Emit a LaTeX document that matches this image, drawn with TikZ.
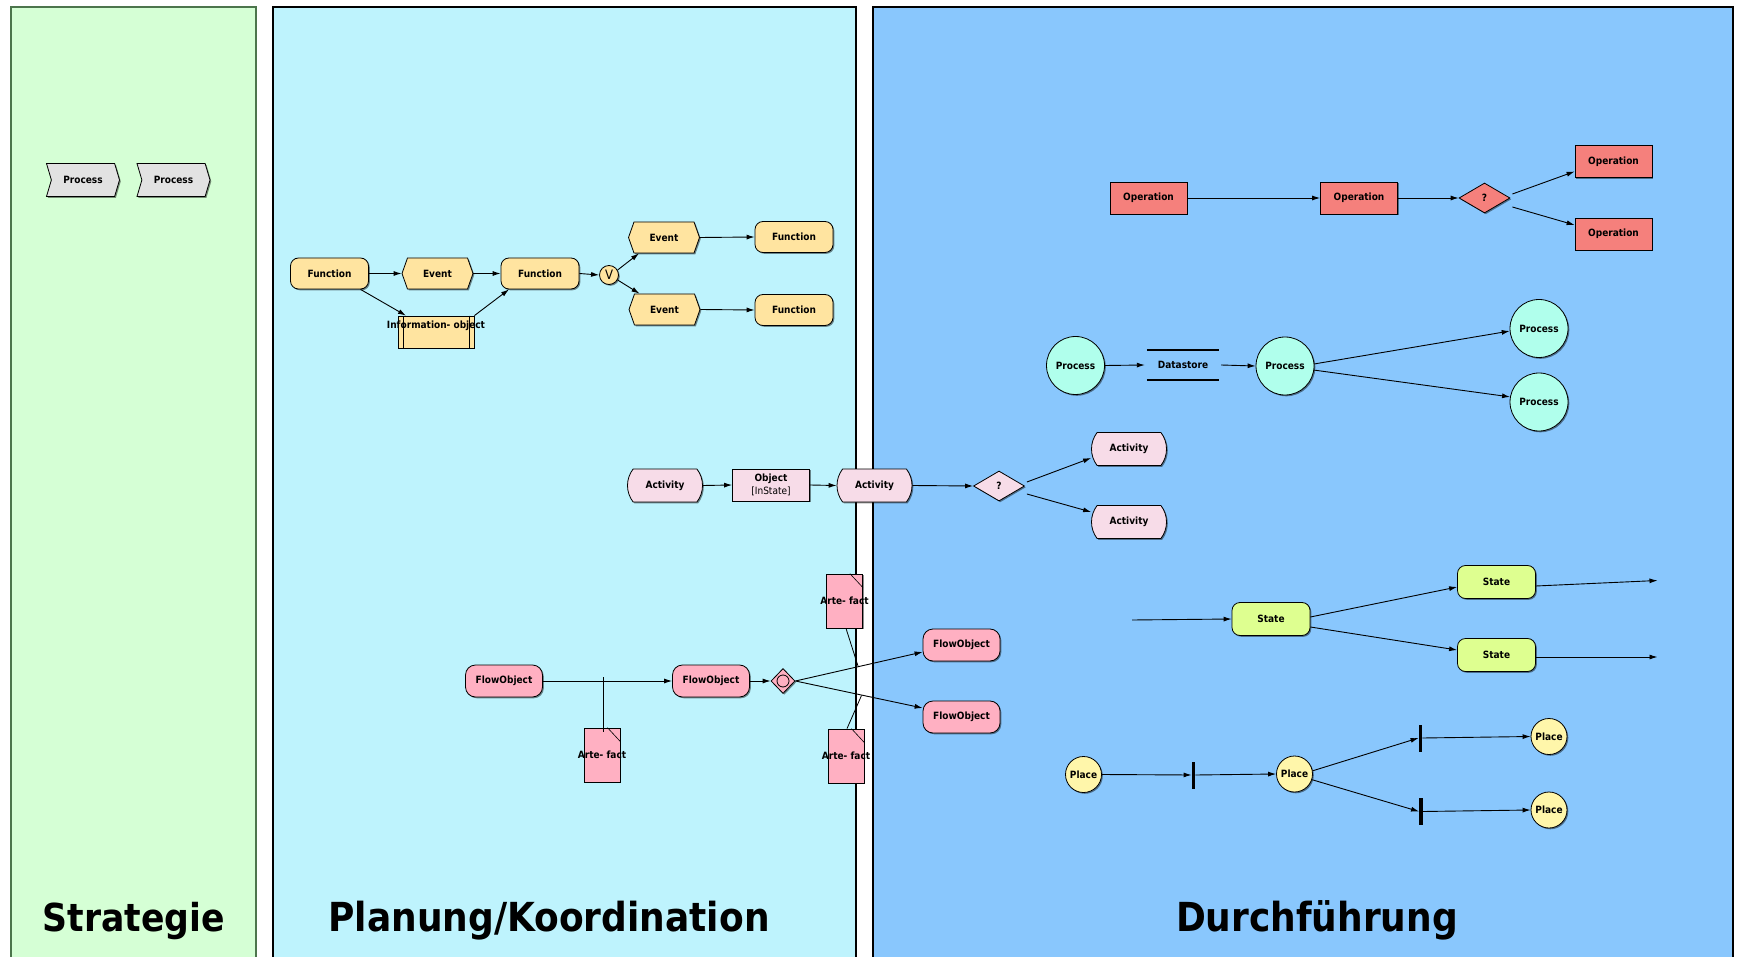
\documentclass[tikz,border=0pt]{standalone}
\usepackage{fontspec}
\setmainfont{DejaVu Sans}[FakeStretch=0.9]
\usetikzlibrary{arrows.meta,shapes.geometric,shapes.misc,shapes.symbols,shadows}

\definecolor{stratfill}{RGB}{213,255,213}
\definecolor{planfill}{RGB}{190,243,253}
\definecolor{execfill}{RGB}{137,199,253}
\definecolor{chevfill}{RGB}{226,226,226}
\definecolor{epcfill}{RGB}{255,228,160}
\definecolor{opfill}{RGB}{245,128,124}
\definecolor{dfdfill}{RGB}{176,255,236}
\definecolor{actfill}{RGB}{247,220,232}
\definecolor{bpmnfill}{RGB}{255,176,194}
\definecolor{statefill}{RGB}{222,255,144}
\definecolor{placefill}{RGB}{255,246,170}

\tikzset{
  base/.style={draw=black, line width=0.8pt, inner sep=0pt,
    drop shadow={shadow xshift=1.3pt, shadow yshift=-1.3pt, fill=black, opacity=0.45}},
  panel/.style={line width=1.5pt},
  title/.style={font=\bfseries\fontsize{40}{42}\selectfont, anchor=base},
  chev/.style={base, signal, signal to=east, signal from=west, signal pointer angle=147,
    fill=chevfill, minimum width=73pt, minimum height=33pt},
  func/.style={base, rectangle, rounded corners=8pt, fill=epcfill, minimum width=78pt, minimum height=31pt},
  event/.style={base, signal, signal to=east and west, signal pointer angle=141,
    fill=epcfill, minimum width=71pt, minimum height=31pt},
  epcconn/.style={base, circle, fill=epcfill, minimum size=19pt, font=\mdseries\fontsize{13}{13}\selectfont},
  infobox/.style={base, rectangle, fill=epcfill, minimum width=76pt, minimum height=32pt},
  oper/.style={base, rectangle, fill=opfill, minimum width=77pt, minimum height=32pt},
  decide/.style={base, diamond, minimum width=51pt, minimum height=30pt},
  dfdproc/.style={base, circle, fill=dfdfill, minimum size=58pt},
  store/.style={rectangle, inner sep=0pt, minimum width=72pt, minimum height=30pt},
  act/.style={base, rounded rectangle, rounded rectangle arc length=75, fill=actfill,
    minimum width=75pt, minimum height=33pt},
  objbox/.style={base, rectangle, fill=actfill, minimum width=77pt, minimum height=32pt, align=center},
  flowobj/.style={base, rectangle, rounded corners=10pt, fill=bpmnfill, minimum width=77pt, minimum height=32pt},
  gateway/.style={base, diamond, fill=bpmnfill, minimum width=24pt, minimum height=25pt},
  artefact/.style={base, rectangle, fill=bpmnfill, minimum width=36pt, minimum height=54pt},
  statebox/.style={base, rectangle, rounded corners=8pt, fill=statefill, minimum width=78pt, minimum height=33pt},
  place/.style={base, circle, fill=placefill, minimum size=36pt},
  transbar/.style={rectangle, fill=black, inner sep=0pt, minimum width=3.5pt, minimum height=27pt},
  flowarrow/.style={line width=0.9pt, -{Latex[length=8pt,width=5pt]}},
  assoc/.style={line width=0.8pt},
}

\begin{document}
\begin{tikzpicture}[x=1pt, y=-1pt, font=\bfseries\fontsize{10}{12.5}\selectfont]
\path[use as bounding box] (0,0) rectangle (1737,957);
\fill[white] (0,0) rectangle (1737,957);

% swimlanes
\begin{scope}
\clip (0,0) rectangle (1737,957);
\filldraw[panel, fill=stratfill, draw=black!60!green!40!gray] (11,7) rectangle (256,975);
\filldraw[panel, fill=planfill, draw=black] (273,7) rectangle (856,975);
\filldraw[panel, fill=execfill, draw=black] (873,7) rectangle (1733,975);
\end{scope}

\node[title, font=\bfseries\fontsize{38.5}{40}\selectfont] (tstrat) at (134,931) {Strategie};
\node[title] (tplan) at (549,931) {Planung/Koordination};
\node[title] (texec) at (1317,931) {Durchführung};

% value chain
\node[chev] (ch1) at (83,180) {Process};
\node[chev] (ch2) at (173.5,180) {Process};

% event-driven process chain
\node[func] (f1) at (329.5,273.5) {Function};
\node[event] (e1) at (437.5,273.5) {Event};
\node[func] (f2) at (540,273.5) {Function};
\node[epcconn] (xo) at (609,275) {V};
\node[event] (e2) at (664,237.5) {Event};
\node[event] (e3) at (664.5,309.5) {Event};
\node[func] (f3) at (794,237) {Function};
\node[func] (f4) at (794,310) {Function};
\node[infobox, label={[yshift=6pt]center:Information- object}] (io) at (436,332) {};
\draw[line width=0.8pt] ([xshift=6pt]io.north west) -- ([xshift=6pt]io.south west);
\draw[line width=0.8pt] ([xshift=-5pt]io.north east) -- ([xshift=-5pt]io.south east);

\draw[flowarrow] (f1.east) -- (e1.west);
\draw[flowarrow] (e1.east) -- (f2.west);
\draw[flowarrow] (f2.east) -- (xo.west);
\draw[flowarrow] (xo.30) -- ([xshift=-25pt]e2.south);
\draw[flowarrow] (xo.-30) -- ([xshift=-25pt]e3.north);
\draw[flowarrow] (e2.east) -- (f3.west);
\draw[flowarrow] (e3.east) -- (f4.west);
\draw[flowarrow] ([xshift=31pt]f1.south) -- ([xshift=-30pt]io.north);
\draw[flowarrow] (io.north east) -- ([xshift=-31pt]f2.south);

% operations
\node[oper] (op1) at (1148.5,198) {Operation};
\node[oper] (op2) at (1359,198) {Operation};
\node[decide, fill=opfill] (q1) at (1484.5,198) {?};
\node[oper] (op3) at (1613.5,161.5) {Operation};
\node[oper] (op4) at (1613.5,234) {Operation};
\draw[flowarrow] (op1.east) -- (op2.west);
\draw[flowarrow] (op2.east) -- (q1.west);
\draw[flowarrow] ([xshift=2pt,yshift=4pt]q1.east) -- ([yshift=-10pt]op3.west);
\draw[flowarrow] ([xshift=2pt,yshift=-9pt]q1.east) -- ([yshift=9pt]op4.west);

% data flow
\node[dfdproc] (dp1) at (1075.5,365.5) {Process};
\node[store] (ds) at (1183,365) {Datastore};
\draw[line width=2pt] (ds.north west) -- (ds.north east);
\draw[line width=2pt] (ds.south west) -- (ds.south east);
\node[dfdproc] (dp2) at (1285,366) {Process};
\node[dfdproc] (dp3) at (1539,328.5) {Process};
\node[dfdproc] (dp4) at (1539,402) {Process};
\draw[flowarrow] (dp1.east) -- ([xshift=-2pt]ds.west);
\draw[flowarrow] ([xshift=2pt]ds.east) -- (dp2.west);
\draw[flowarrow] (dp2.4) -- (dp3.185);
\draw[flowarrow] (dp2.-8) -- (dp4.170);

% activities
\node[act] (a1) at (665,485.5) {Activity};
\node[objbox] (obj) at (771,485) {Object\\\mdseries [InState]};
\node[act] (a2) at (874.5,485.5) {Activity};
\node[decide, fill=actfill] (q2) at (999,486) {?};
\node[act] (a3) at (1129,449) {Activity};
\node[act] (a4) at (1129,522) {Activity};
\draw[flowarrow] (a1.east) -- (obj.west);
\draw[flowarrow] (obj.east) -- (a2.west);
\draw[flowarrow] (a2.east) -- (q2.west);
\draw[flowarrow] ([xshift=2pt,yshift=4pt]q2.east) -- ([yshift=-9pt]a3.west);
\draw[flowarrow] ([xshift=2pt,yshift=-8pt]q2.east) -- ([yshift=10pt]a4.west);

% business process flow
\node[flowobj] (fo1) at (504,681) {FlowObject};
\node[flowobj] (fo2) at (711,681) {FlowObject};
\node[gateway] (gw) at (783,681) {};
\draw[line width=0.8pt] (gw.center) circle[radius=6];
\node[flowobj] (fo3) at (961.5,645) {FlowObject};
\node[flowobj] (fo4) at (961.5,717) {FlowObject};
\node[artefact, label=center:Arte- fact] (af1) at (602,755) {};
\node[artefact, label=center:Arte- fact] (af2) at (844.5,601) {};
\node[artefact, label=center:Arte- fact] (af3) at (846,756) {};
\foreach \a in {af1,af2,af3}
  \draw[line width=0.6pt] ([xshift=-13pt]\a.north east) -- ([yshift=-14pt]\a.north east);

\draw[flowarrow] (fo1.east) -- (fo2.west);
\draw[flowarrow] (fo2.east) -- (gw.west);
\draw[flowarrow] (gw.east) -- ([yshift=-7pt]fo3.west);
\draw[flowarrow] (gw.east) -- ([yshift=9pt]fo4.west);

\coordinate (as1) at (603.5,677);
\coordinate (as2) at (858,666);
\coordinate (as3) at (861.5,695.5);
\draw[assoc] ([xshift=1.5pt,yshift=-4pt]af1.north) -- (as1);
\draw[assoc] ([xshift=1.5pt]af2.south) -- (as2);
\draw[assoc] ([xshift=1pt]af3.north) -- (as3);

% state machine
\coordinate (sin) at (1132,620);
\node[statebox] (s1) at (1271,619) {State};
\node[statebox] (s2) at (1496.5,582) {State};
\node[statebox] (s3) at (1496.5,655) {State};
\coordinate (sout2) at (1657.5,580.5);
\coordinate (sout3) at (1657.5,657);
\draw[flowarrow] (sin) -- (s1.west);
\draw[flowarrow] ([yshift=2pt]s1.east) -- ([yshift=-5pt]s2.west);
\draw[flowarrow] ([yshift=-8pt]s1.east) -- ([yshift=5pt]s3.west);
\draw[flowarrow] ([yshift=-4pt]s2.east) -- (sout2);
\draw[flowarrow] ([yshift=-2pt]s3.east) -- (sout3);

% petri net
\node[place] (pl1) at (1083.5,774.5) {Place};
\node[transbar] (t1) at (1193.5,775) {};
\node[place] (pl2) at (1294.5,774) {Place};
\node[transbar] (t2) at (1420.5,738) {};
\node[transbar] (t3) at (1421,811.5) {};
\node[place] (pl3) at (1549,736.5) {Place};
\node[place] (pl4) at (1549,810) {Place};
\draw[flowarrow] (pl1.east) -- (t1.west);
\draw[flowarrow] (t1.east) -- (pl2.west);
\draw[flowarrow] (pl2.10) -- (t2.west);
\draw[flowarrow] (pl2.-18) -- (t3.west);
\draw[flowarrow] (t2.east) -- (pl3.west);
\draw[flowarrow] (t3.east) -- (pl4.west);
\end{tikzpicture}
\end{document}
